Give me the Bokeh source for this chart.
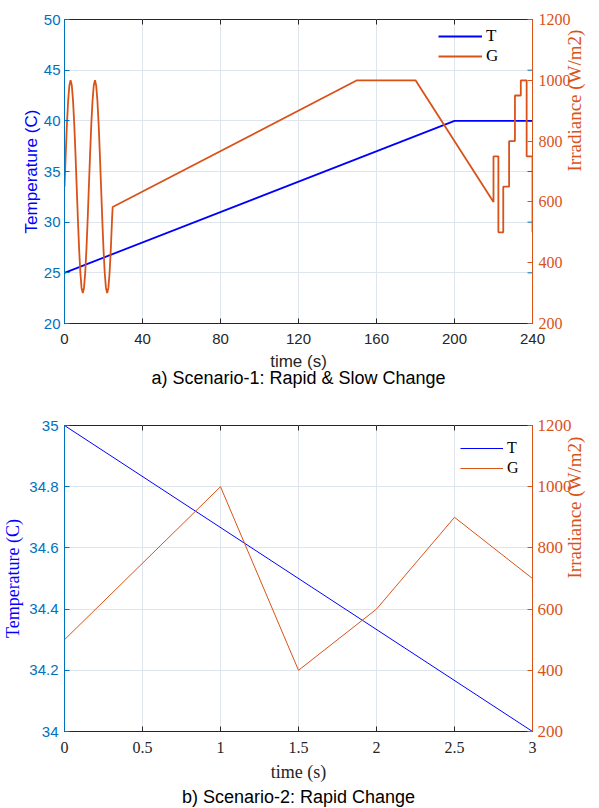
import math

from bokeh.embed import file_html
from bokeh.layouts import column
from bokeh.models import FixedTicker, LinearAxis, Range1d, Title
from bokeh.plotting import figure
from bokeh.resources import INLINE

# ---------------- data ----------------
# Scenario 1: temperature ramp and irradiance profile (0-240 s)
s1_temp_time = [0, 200, 240]
s1_temp = [25, 40, 40]

s1_irr_time = [
    0, 0.625, 1.25, 1.875, 2.5, 3.125, 3.75, 4.375, 5, 5.625,
    6.25, 6.875, 7.5, 8.125, 8.75, 9.375, 10, 10.625, 11.25, 11.875,
    12.5, 13.125, 13.75, 14.375, 15, 15.625, 16.25, 16.875, 17.5, 18.125,
    18.75, 19.375, 20, 20.625, 21.25, 21.875, 22.5, 23.125, 23.75, 24.375,
    24.7, 150, 180, 220, 220, 222.5, 222.5, 225, 225, 228,
    228, 231, 231, 234, 234, 237, 237, 240, 240,
]
s1_irr = [
    650, 758, 856, 933, 983, 1000, 983, 933, 856, 758,
    650, 542, 444, 367, 317, 300, 317, 367, 444, 542,
    650, 758, 856, 933, 983, 1000, 983, 933, 856, 758,
    650, 542, 444, 367, 317, 300, 317, 367, 444, 542,
    583, 1000, 1000, 600, 750, 750, 500, 500, 650, 650,
    800, 800, 950, 950, 1000, 1000, 750, 750, 500,
]

# Scenario 2: fast changes over 3 s
s2_temp_time = [0, 3]
s2_temp = [35, 34]
s2_irr_time = [0, 1, 1.5, 2, 2.5, 3]
s2_irr = [500, 1000, 400, 600, 900, 700]

# tick positions
s1_time_ticks = [0, 40, 80, 120, 160, 200, 240]
s1_temp_ticks = [20, 25, 30, 35, 40, 45, 50]
s2_time_ticks = [0, 0.5, 1, 1.5, 2, 2.5, 3]
s2_temp_ticks = [34, 34.2, 34.4, 34.6, 34.8, 35]
irr_ticks = [200, 400, 600, 800, 1000, 1200]

# ---------------- style ----------------
SANS = "Liberation Sans"
SERIF = "Liberation Serif"
AX_BLUE = "#0072BD"
LINE_BLUE = "#0000FF"
ORANGE = "#D95319"
DARK = "#262626"
GRID = "#dfe5ec"
TICK_LEN = 5


def build(time_rng, temp_rng, time_ticks, temp_ticks, size, border,
          xcfg, ycfg, rcfg, t_data, g_data, line_w, caption, cap_standoff,
          legend_xy, legend_glyph_w, legend_font, right_blue_ticks):
    p = figure(
        width=size[0], height=size[1],
        x_range=Range1d(*time_rng), y_range=Range1d(*temp_rng),
        output_backend="svg", toolbar_location=None,
        min_border_left=border[0], min_border_right=border[1],
        min_border_top=border[2], min_border_bottom=border[3],
    )
    p.outline_line_color = DARK
    p.outline_line_width = 1
    p.background_fill_color = "white"
    p.border_fill_color = "white"
    p.extra_y_ranges = {"irr": Range1d(200, 1200)}

    # grid
    p.xgrid.ticker = FixedTicker(ticks=time_ticks)
    p.ygrid.ticker = FixedTicker(ticks=temp_ticks)
    p.grid.grid_line_color = GRID
    p.grid.grid_line_width = 1

    # bottom time axis
    xa = p.xaxis[0]
    xa.ticker = FixedTicker(ticks=time_ticks)
    xa.axis_label = "time (s)"
    xa.axis_line_color = DARK
    xa.major_tick_line_color = DARK
    xa.major_tick_in = TICK_LEN
    xa.major_tick_out = 0
    xa.minor_tick_line_color = None
    xa.major_label_text_font = xcfg[0]
    xa.major_label_text_font_size = xcfg[1]
    xa.major_label_text_color = DARK
    xa.major_label_standoff = xcfg[2]
    xa.axis_label_text_font = xcfg[0]
    xa.axis_label_text_font_size = xcfg[3]
    xa.axis_label_text_font_style = "normal"
    xa.axis_label_text_color = DARK
    xa.axis_label_standoff = xcfg[4]

    # left temperature axis
    ya = p.yaxis[0]
    ya.ticker = FixedTicker(ticks=temp_ticks)
    ya.axis_label = "Temperature (C)"
    ya.axis_line_color = AX_BLUE
    ya.major_tick_line_color = AX_BLUE
    ya.major_tick_in = TICK_LEN
    ya.major_tick_out = 0
    ya.minor_tick_line_color = None
    ya.major_label_text_font = SANS
    ya.major_label_text_font_size = ycfg[0]
    ya.major_label_text_color = AX_BLUE
    ya.major_label_standoff = ycfg[1]
    ya.axis_label_text_font = ycfg[2]
    ya.axis_label_text_font_size = ycfg[3]
    ya.axis_label_text_font_style = "normal"
    ya.axis_label_text_color = LINE_BLUE
    ya.axis_label_standoff = ycfg[4]

    # right irradiance axis
    ra = LinearAxis(y_range_name="irr", ticker=FixedTicker(ticks=irr_ticks))
    ra.axis_label = "Irradiance (W/m2)"
    ra.axis_line_color = ORANGE
    ra.major_tick_line_color = ORANGE
    ra.major_tick_in = TICK_LEN
    ra.major_tick_out = 0
    ra.minor_tick_line_color = None
    ra.major_label_text_font = SERIF
    ra.major_label_text_font_size = rcfg[0]
    ra.major_label_text_color = ORANGE
    ra.major_label_standoff = rcfg[1]
    ra.axis_label_text_font = SERIF
    ra.axis_label_text_font_size = rcfg[2]
    ra.axis_label_text_font_style = "normal"
    ra.axis_label_text_color = ORANGE
    ra.axis_label_standoff = rcfg[3]
    ra.axis_label_orientation = math.pi / 2
    p.add_layout(ra, "right")

    # inward tick marks along the top edge of the box
    p.ray(x=time_ticks, y=[temp_rng[1]] * len(time_ticks), length=TICK_LEN,
          length_units="screen", angle=-math.pi / 2, line_color=DARK,
          line_width=1)
    # temperature ticks repeated on the right edge
    if right_blue_ticks:
        inner = temp_ticks[1:-1]
        p.ray(x=[time_rng[1]] * len(inner), y=inner, length=TICK_LEN,
              length_units="screen", angle=math.pi, line_color=AX_BLUE,
              line_width=1)

    # series
    p.line(t_data[0], t_data[1], line_color=LINE_BLUE, line_width=line_w,
           legend_label="T")
    p.line(g_data[0], g_data[1], line_color=ORANGE, line_width=line_w,
           y_range_name="irr", legend_label="G")

    lg = p.legend[0]
    lg.location = legend_xy
    lg.border_line_color = None
    lg.background_fill_alpha = 0
    lg.padding = 0
    lg.margin = 0
    lg.spacing = 0
    lg.glyph_width = legend_glyph_w
    lg.glyph_height = 20
    lg.label_height = 20
    lg.label_standoff = 4
    lg.label_text_font = SERIF
    lg.label_text_font_size = legend_font
    lg.label_text_color = "black"

    cap = Title(text=caption, align="center", text_font=SANS,
                text_font_size="18px", text_font_style="normal",
                text_color="black", standoff=cap_standoff)
    p.add_layout(cap, "below")
    return p


p1 = build(
    (0, 240), (20, 50), s1_time_ticks, s1_temp_ticks, (599, 400),
    (60, 67, 19, 77),
    (SANS, "15px", 10, "17px", 5),
    ("15px", 4, SANS, "17px", 0),
    ("16px", 6, "19px", 1),
    (s1_temp_time, s1_temp), (s1_irr_time, s1_irr), 1.8,
    "a) Scenario-1: Rapid & Slow Change", -16, (374, 257), 44, "17px", True,
)

p2 = build(
    (0, 3), (34, 35), s2_time_ticks, s2_temp_ticks, (599, 408),
    (63, 65, 25, 77),
    (SERIF, "16px", 10, "18px", 6),
    ("15px", 6, SERIF, "18px", 3),
    ("17px", 5, "19px", 0),
    (s2_temp_time, s2_temp), (s2_irr_time, s2_irr), 1.0,
    "b) Scenario-2: Rapid Change", 0, (396, 253), 43, "16px", False,
)

layout = column(p1, p2, spacing=0)
open("out.html", "w").write(file_html(layout, INLINE))
